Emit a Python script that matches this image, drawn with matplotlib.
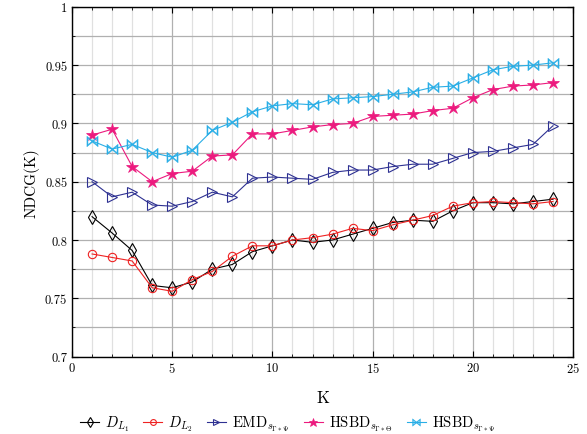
import numpy as np
import matplotlib
matplotlib.use('Agg')
import matplotlib.pyplot as plt
from matplotlib.ticker import MultipleLocator, FuncFormatter

plt.rcParams['font.family'] = 'cmr10'
plt.rcParams['mathtext.fontset'] = 'cm'
plt.rcParams['axes.formatter.use_mathtext'] = True

k = list(range(1, 25))

d_l1 = [0.820, 0.806, 0.791, 0.761, 0.759, 0.764, 0.775, 0.779, 0.790, 0.795,
        0.800, 0.798, 0.800, 0.805, 0.810, 0.815, 0.817, 0.816, 0.825, 0.832,
        0.832, 0.831, 0.833, 0.835]
d_l2 = [0.788, 0.785, 0.782, 0.759, 0.756, 0.766, 0.773, 0.786, 0.795, 0.795,
        0.800, 0.802, 0.805, 0.810, 0.808, 0.813, 0.817, 0.821, 0.829, 0.832,
        0.833, 0.832, 0.831, 0.833]
emd = [0.850, 0.837, 0.841, 0.830, 0.829, 0.833, 0.841, 0.837, 0.853, 0.854,
       0.853, 0.852, 0.858, 0.860, 0.860, 0.863, 0.865, 0.865, 0.870, 0.875,
       0.876, 0.879, 0.882, 0.898]
hsbd_theta = [0.890, 0.895, 0.863, 0.850, 0.857, 0.859, 0.872, 0.873, 0.891, 0.891,
              0.894, 0.897, 0.899, 0.900, 0.906, 0.907, 0.908, 0.911, 0.913, 0.922,
              0.929, 0.932, 0.933, 0.935]
hsbd_psi = [0.885, 0.878, 0.882, 0.875, 0.871, 0.877, 0.894, 0.901, 0.910, 0.915,
            0.917, 0.916, 0.921, 0.922, 0.923, 0.925, 0.927, 0.931, 0.932, 0.939,
            0.946, 0.949, 0.950, 0.952]

fig = plt.figure(figsize=(5.87, 4.35), dpi=100)
ax = fig.add_axes([0.1227, 0.178, 0.8535, 0.804])

ax.plot(k, d_l1, color='black', lw=0.8, marker='d', ms=7, mfc='none', mew=0.8,
        label=r'$D_{L_1}$')
ax.plot(k, d_l2, color='#ee2222', lw=0.8, marker='o', ms=6, mfc='none', mew=0.8,
        label=r'$D_{L_2}$')
ax.plot(k, emd, color='#2e3192', lw=0.8, marker='>', ms=7, mfc='none', mew=0.8,
        label=r'EMD$_{s_{\Gamma\ast\Psi}}$')
ax.plot(k, hsbd_theta, color='#ec1a7e', lw=0.8, marker='*', ms=9, mew=0.5,
        label=r'HSBD$_{s_{\Gamma\ast\Theta}}$')
ax.plot(k, hsbd_psi, color='#29aee6', lw=0.8, marker=r'$\bowtie$', ms=8, mew=0.3,
        label=r'HSBD$_{s_{\Gamma\ast\Psi}}$')

ax.set_xlim(0, 25)
ax.set_ylim(0.7, 1.0)
ax.xaxis.set_major_locator(MultipleLocator(5))
ax.xaxis.set_minor_locator(MultipleLocator(1))
ax.yaxis.set_major_locator(MultipleLocator(0.05))
ax.yaxis.set_minor_locator(MultipleLocator(0.025))
ax.yaxis.set_major_formatter(FuncFormatter(lambda v, p: '%g' % round(v, 3)))

ax.grid(which='major', color='#b0b0b0', lw=0.9)
ax.grid(which='minor', axis='x', color='#e0e0e0', lw=0.9)
ax.grid(which='minor', axis='y', color='#b0b0b0', lw=0.9)
ax.set_axisbelow(True)
ax.tick_params(which='both', direction='in', top=True, right=True, labelsize=9)
ax.tick_params(which='major', length=4)
ax.tick_params(which='minor', length=2.5)
for s in ax.spines.values():
    s.set_linewidth(1.0)

ax.set_xlabel('K', fontsize=12, labelpad=10)
ax.set_ylabel('NDCG(K)', fontsize=11)

fig.legend(*ax.get_legend_handles_labels(), loc='lower center',
           bbox_to_anchor=(0.49, -0.028), ncol=5, frameon=False,
           fontsize=10.5, handlelength=1.3, columnspacing=1.0, handletextpad=0.4,
           markerscale=0.7)

fig.savefig('out.png', dpi=100)
